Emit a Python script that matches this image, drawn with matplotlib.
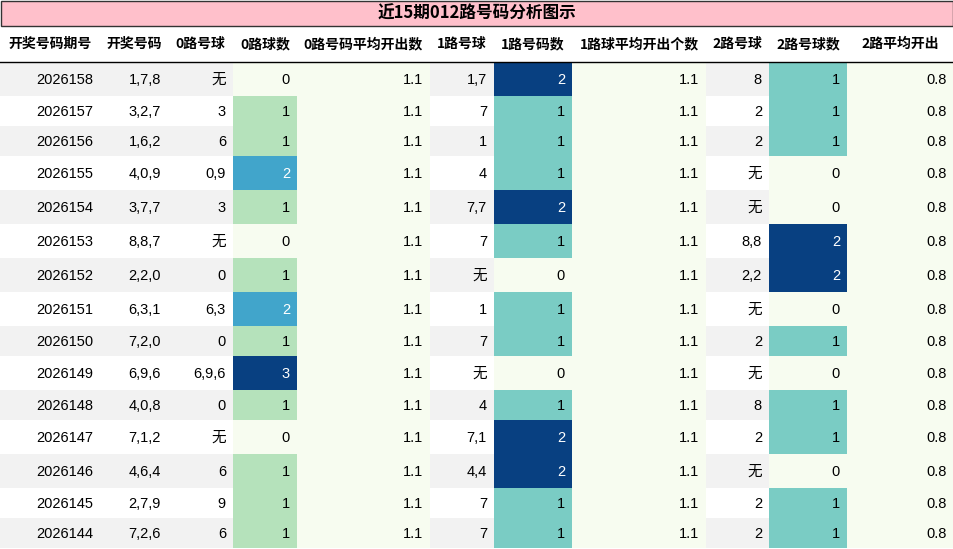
import matplotlib.pyplot as plt
import matplotlib.patches as mpatches
from matplotlib import cm

title = "近15期012路号码分析图示"
headers = ["开奖号码期号", "开奖号码", "0路号球", "0路球数", "0路号码平均开出数",
           "1路号球", "1路号码数", "1路球平均开出个数", "2路号球", "2路号球数", "2路平均开出"]
periods = ["2026158", "2026157", "2026156", "2026155", "2026154", "2026153", "2026152", "2026151",
           "2026150", "2026149", "2026148", "2026147", "2026146", "2026145", "2026144"]
draws = ["1,7,8", "3,2,7", "1,6,2", "4,0,9", "3,7,7", "8,8,7", "2,2,0", "6,3,1",
         "7,2,0", "6,9,6", "4,0,8", "7,1,2", "4,6,4", "2,7,9", "7,2,6"]
r0_balls = ["无", "3", "6", "0,9", "3", "无", "0", "6,3", "0", "6,9,6", "0", "无", "6", "9", "6"]
r0_count = [0, 1, 1, 2, 1, 0, 1, 2, 1, 3, 1, 0, 1, 1, 1]
r0_avg = [1.1] * 15
r1_balls = ["1,7", "7", "1", "4", "7,7", "7", "无", "1", "7", "无", "4", "7,1", "4,4", "7", "7"]
r1_count = [2, 1, 1, 1, 2, 1, 0, 1, 1, 0, 1, 2, 2, 1, 1]
r1_avg = [1.1] * 15
r2_balls = ["8", "2", "2", "无", "无", "8,8", "2,2", "无", "2", "无", "8", "2", "无", "2", "2"]
r2_count = [1, 1, 1, 0, 0, 2, 2, 0, 1, 0, 1, 1, 0, 1, 1]
r2_avg = [0.8] * 15

columns = [periods, draws, r0_balls, r0_count, r0_avg, r1_balls, r1_count, r1_avg,
           r2_balls, r2_count, r2_avg]
col_edges = [0, 100, 168, 233, 297, 430, 494, 572, 706, 769, 847, 954]
count_cols = {3: r0_count, 6: r1_count, 9: r2_count}
avg_cols = [4, 7, 10]

cmap = cm.get_cmap("GnBu")
body_font = ["Liberation Sans", "Noto Sans CJK SC"]

fig = plt.figure(figsize=(9.54, 5.49), dpi=100)
ax = fig.add_axes([0, 0, 1, 1])
ax.set_xlim(0, 954)
ax.set_ylim(549, 0)
ax.axis("off")

# title bar
ax.add_patch(mpatches.Rectangle((0.5, 0.5), 953, 25, facecolor="#ffc0cb", edgecolor="#333333", lw=1))
ax.text(477, 14, title, ha="center", va="center", fontsize=12, fontweight="bold",
        family=["Noto Sans CJK SC"])

# header
for i, h in enumerate(headers):
    ax.text((col_edges[i] + col_edges[i + 1]) / 2, 44, h, ha="center", va="center",
            fontsize=10, fontweight="bold", family=["Noto Sans CJK SC"])
ax.plot([0, 954], [61.5, 61.5], color="black", lw=1)

y = 62
for r in range(len(periods)):
    has_wu = any(columns[c][r] == "无" for c in (2, 5, 8))
    h = 34 if has_wu else 30
    if r % 2 == 0:
        ax.add_patch(mpatches.Rectangle((0, y), 954, h, facecolor="#f2f2f2", lw=0))
    for c in range(11):
        x0, x1 = col_edges[c], col_edges[c + 1]
        color = "black"
        if c in avg_cols:
            ax.add_patch(mpatches.Rectangle((x0, y), x1 - x0, h, facecolor="#f7fcf0", lw=0))
        if c in count_cols:
            vals = count_cols[c]
            v = vals[r]
            if v > 0:
                f = 0.5 * v / max(vals) * 2 if max(vals) == 2 else v / max(vals)
                t = {1: 0.33, 2: 0.67, 3: 1.0}[v] if max(vals) == 3 else {1: 0.5, 2: 1.0}[v]
                ax.add_patch(mpatches.Rectangle((x0, y), x1 - x0, h, facecolor=cmap(t), lw=0))
                if t > 0.6:
                    color = "white"
            else:
                ax.add_patch(mpatches.Rectangle((x0, y), x1 - x0, h, facecolor="#f7fcf0", lw=0))
        ax.text(x1 - 7, y + h / 2 + 1, str(columns[c][r]), ha="right", va="center",
                fontsize=10.5, color=color, family=body_font)
    y += h

fig.savefig("out.png", dpi=100)
